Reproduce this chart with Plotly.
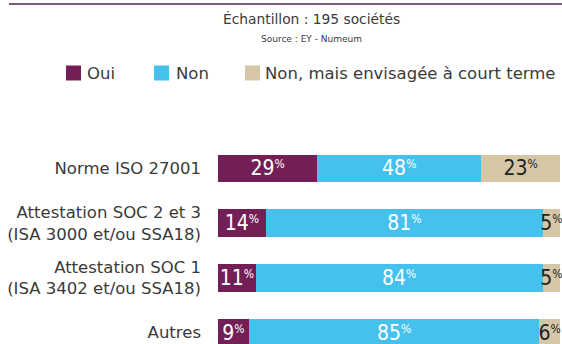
import plotly.graph_objects as go

# Survey data: share of companies per certification type
categories = [
    "Norme ISO 27001",
    "Attestation SOC 2 et 3<br>(ISA 3000 et/ou SSA18)",
    "Attestation SOC 1<br>(ISA 3402 et/ou SSA18)",
    "Autres",
]
oui = [29, 14, 11, 9]
non = [48, 81, 84, 85]
envisagee = [23, 5, 5, 6]
series_names = ["Oui", "Non", "Non, mais envisagée à court terme"]

colors = ["#731f56", "#45c1ee", "#d5c6a6"]
text_colors = ["#ffffff", "#ffffff", "#222222"]
label_font = "DejaVu Sans, sans-serif"
value_font = "DejaVu Sans Condensed, DejaVu Sans, sans-serif"
grey = "#3a3a3a"

W, H = 562, 344
ML, MT = 218, 140
PW, PH = W - ML, H - MT


def paper_x(px):
    return (px - ML) / PW


def paper_y(py):
    return (H - py) / PH


def pct_label(v):
    # big number with a small raised percent sign
    return f"{v}<span style='font-size:12px;baseline-shift:7px'>%</span>"


fig = go.Figure()
for name, vals, col, tcol in zip(series_names, [oui, non, envisagee], colors, text_colors):
    fig.add_trace(go.Bar(
        y=categories, x=vals, orientation="h", name=name,
        marker=dict(color=col, line=dict(width=0)),
        text=[pct_label(v) for v in vals],
        textposition="inside", insidetextanchor="middle", textangle=0,
        textfont=dict(family=value_font, size=21, color=tcol),
        showlegend=False, hoverinfo="skip",
    ))

# Legend: coloured squares followed by the series names
legend_square_x = [66, 154, 245]
legend_text_x = [85, 174, 263]
shapes = [
    dict(type="line", xref="paper", yref="paper",
         x0=paper_x(9), x1=paper_x(W), y0=paper_y(4), y1=paper_y(4),
         line=dict(color="#7d5a7d", width=2)),
]
annotations = [
    dict(text="Échantillon : 195 sociétés", x=paper_x(311), y=paper_y(19),
         xref="paper", yref="paper", xanchor="center", yanchor="middle",
         showarrow=False,
         font=dict(family=label_font, size=13.8, color=grey)),
    dict(text="Source : EY - Numeum", x=paper_x(311), y=paper_y(39),
         xref="paper", yref="paper", xanchor="center", yanchor="middle",
         showarrow=False,
         font=dict(family=label_font, size=9, color=grey)),
]
for name, col, sx, tx in zip(series_names, colors, legend_square_x, legend_text_x):
    shapes.append(dict(type="rect", xref="paper", yref="paper",
                       x0=paper_x(sx), x1=paper_x(sx + 15),
                       y0=paper_y(80.5), y1=paper_y(65.5),
                       fillcolor=col, line=dict(width=0)))
    annotations.append(dict(text=name, x=paper_x(tx), y=paper_y(73.5),
                            xref="paper", yref="paper", xanchor="left",
                            yanchor="middle", showarrow=False,
                            font=dict(family=label_font, size=16.5, color=grey)))

fig.update_layout(
    width=W, height=H,
    margin=dict(l=ML, r=0, t=MT, b=0, pad=0),
    paper_bgcolor="white", plot_bgcolor="white",
    barmode="stack", bargap=0.5,
    uniformtext=dict(minsize=21, mode="show"),
    font=dict(family=label_font, color=grey),
    showlegend=False,
    xaxis=dict(range=[0, 100.6], visible=False, fixedrange=True),
    yaxis=dict(
        type="category", categoryorder="array", categoryarray=categories,
        range=[3.21, -0.52], showgrid=False, zeroline=False, showline=False,
        ticks="", ticklabelstandoff=16,
        tickfont=dict(family=label_font, size=16.5, color=grey),
    ),
    annotations=annotations,
    shapes=shapes,
)

fig.write_html("out.html", config={"displayModeBar": False})
